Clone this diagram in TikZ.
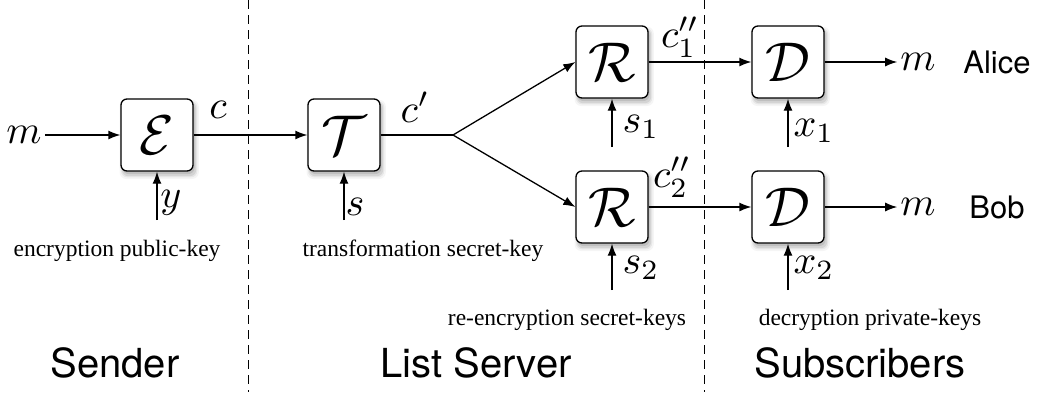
\documentclass[tikz,border=0pt]{standalone}
\usepackage{graphicx}
\usepackage{fontspec}
\setmainfont{Liberation Serif}
\setsansfont{TeX Gyre Heros}
\usetikzlibrary{arrows.meta,shadows}
\newcommand{\bigsym}[1]{\scalebox{4}{$#1$}}
\newcommand{\calsym}[1]{\scalebox{5.6}{$\mathcal{#1}$}}
\tikzset{
  shadowed/.style={
    drop shadow={shadow xshift=2pt, shadow yshift=-4pt, opacity=.08, shadow scale=1.10},
    drop shadow={shadow xshift=2pt, shadow yshift=-4pt, opacity=.12, shadow scale=1.06},
    drop shadow={shadow xshift=2pt, shadow yshift=-4pt, opacity=.18, shadow scale=1.03},
    drop shadow={shadow xshift=1.5pt, shadow yshift=-3pt, opacity=.25}},
  blk/.style={draw, line width=1.3pt, rounded corners=6pt, minimum width=72pt,
    minimum height=72pt, fill=white, inner sep=0pt, shadowed},
  sym/.style={inner sep=3pt},
  lbl/.style={font=\fontsize{23.5}{28}\selectfont, inner sep=0pt, anchor=base},
  part/.style={font=\sffamily\fontsize{40}{48}\selectfont, inner sep=0pt, anchor=base},
  who/.style={font=\sffamily\fontsize{31}{36}\selectfont, inner sep=0pt},
  conn/.style={line width=1.3pt, -{Latex[length=12pt,width=9pt]}},
  wire/.style={line width=1.3pt},
  sep/.style={line width=1pt, dash pattern=on 9pt off 6pt},
}
\begin{document}
\begin{tikzpicture}[x=1pt,y=-1pt]
\useasboundingbox (0,0) rectangle (1039,392);

% separators
\coordinate (s1t) at (248,0);   \coordinate (s1b) at (248,392);
\coordinate (s2t) at (704,0);   \coordinate (s2b) at (704,392);
\draw[sep] (s1t) -- (s1b);
\draw[sep] (s2t) -- (s2b);

% blocks
\node[blk] (E)  at (157,135) {\calsym{E}};
\node[blk] (T)  at (344,135) {\calsym{T}};
\node[blk] (R1) at (612,62)  {\calsym{R}};
\node[blk] (R2) at (612,207) {\calsym{R}};
\node[blk] (D1) at (788,62)  {\calsym{D}};
\node[blk] (D2) at (788,207) {\calsym{D}};

% message in / out
\node[sym] (min) at (24,135) {\bigsym{m}};
\node[sym] (mo1) at (918,62) {\bigsym{m}};
\node[sym] (mo2) at (918,207) {\bigsym{m}};

% main flow
\coordinate (br) at (453,135);
\draw[conn] (min) -- (E);
\draw[conn] (E) -- (T);
\draw[wire] (T.east) -- (br);
\draw[conn] (br) -- (R1.west);
\draw[conn] (br) -- (R2.west);
\draw[conn] (R1) -- (D1);
\draw[conn] (R2) -- (D2);
\draw[conn] (D1) -- (mo1);
\draw[conn] (D2) -- (mo2);

% ciphertext labels
\node[sym, inner sep=0pt] (lc)   at (218,110) {\bigsym{c}};
\node[sym, inner sep=0pt] (lcp)  at (415,107) {\bigsym{c'}};
\node[sym, inner sep=0pt] (lc1)  at (680,37)  {\bigsym{c''_1}};
\node[sym, inner sep=0pt] (lc2)  at (672,177) {\bigsym{c''_2}};

% key inputs
\coordinate (kE)  at (157,220);
\coordinate (kT)  at (344,220);
\coordinate (kR1) at (612,147);
\coordinate (kD1) at (788,147);
\coordinate (kR2) at (612,290);
\coordinate (kD2) at (788,290);
\draw[conn] (kE) -- (E.south);
\draw[conn] (kT) -- (T.south);
\draw[conn] (kR1) -- (R1.south);
\draw[conn] (kD1) -- (D1.south);
\draw[conn] (kR2) -- (R2.south);
\draw[conn] (kD2) -- (D2.south);
\node[sym, inner sep=0pt] (ly)  at (171,203) {\bigsym{y}};
\node[sym, inner sep=0pt] (ls)  at (355,207) {\bigsym{s}};
\node[sym, inner sep=0pt] (ls1) at (641,127) {\bigsym{s_1}};
\node[sym, inner sep=0pt] (lx1) at (814,131) {\bigsym{x_1}};
\node[sym, inner sep=0pt] (ls2) at (641,268) {\bigsym{s_2}};
\node[sym, inner sep=0pt] (lx2) at (814,268) {\bigsym{x_2}};

% key descriptions
\node[lbl] (tE) at (117,256) {encryption public-key};
\node[lbl] (tT) at (423,256) {transformation secret-key};
\node[lbl] (tR) at (567,325) {re-encryption secret-keys};
\node[lbl] (tD) at (870,325) {decryption private-keys};

% recipients
\node[who] (alice) at (997,62)  {Alice};
\node[who] (bob)   at (997,207) {Bob};

% parties
\node[part] (p1) at (115,377) {Sender};
\node[part] (p2) at (476,377) {List Server};
\node[part] (p3) at (860,377) {Subscribers};
\end{tikzpicture}
\end{document}
